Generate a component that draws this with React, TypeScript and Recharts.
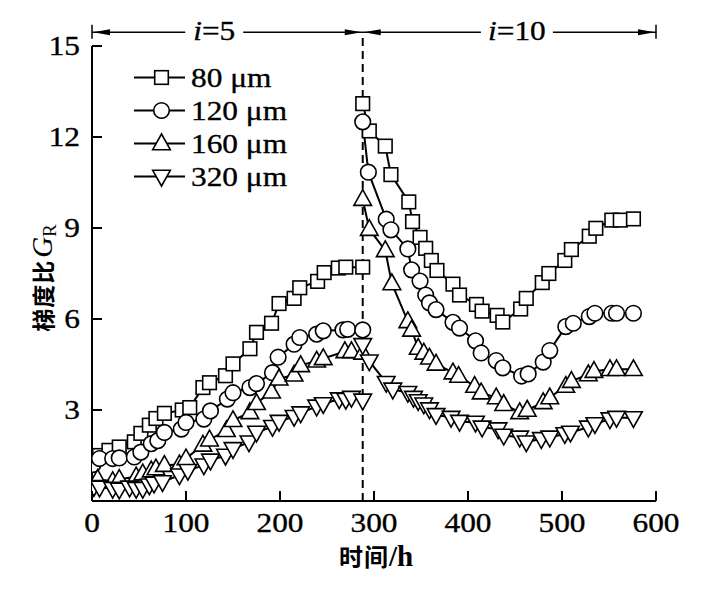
import React from 'react';
import { LineChart, Line, XAxis, YAxis, ReferenceLine } from 'recharts';

const SERIF = "'Liberation Serif', 'Times New Roman', Times, serif";
const CJK = "'Noto Sans CJK SC', 'Noto Sans', sans-serif";

// axis ticks
const xTicks = [0, 100, 200, 300, 400, 500, 600];
const yTicks = [3, 6, 9, 12, 15];
const switchTime = 288;
const arrowLevel = 15.45;
// where the span labels sit along the time axis
const spanLabelAt = [130, 452];

// legend names
const names = ['80 μm', '120 μm', '160 μm', '320 μm'];
const kinds = ['square', 'circle', 'up', 'down'];

// 80 μm
const t80a = [8, 18, 29, 45, 52, 61, 68, 77, 96, 104, 118, 125, 142, 150, 168, 175, 191, 199, 215, 221, 240, 247, 262, 270, 288];
const g80a = [1.5, 1.67, 1.78, 1.95, 2.23, 2.5, 2.72, 2.89, 3.0, 3.08, 3.74, 3.9, 4.13, 4.52, 5.02, 5.56, 5.86, 6.51, 6.68, 7.03, 7.24, 7.53, 7.68, 7.71, 7.71];
const t80b = [288, 295, 312, 318, 337, 341, 349, 355, 361, 367, 384, 391, 409, 415, 431, 437, 456, 462, 479, 486, 503, 510, 529, 536, 553, 562, 576];
const g80b = [13.1, 12.2, 11.7, 10.76, 9.86, 9.21, 8.69, 8.33, 7.93, 7.6, 7.15, 6.79, 6.48, 6.26, 6.12, 5.9, 6.33, 6.68, 7.2, 7.5, 7.93, 8.29, 8.73, 8.99, 9.26, 9.26, 9.3];

// 120 μm
const t120a = [1, 8, 22, 29, 45, 52, 63, 70, 77, 95, 100, 119, 126, 144, 150, 168, 175, 192, 198, 215, 221, 239, 246, 267, 272, 288];
const g120a = [1.2, 1.4, 1.4, 1.42, 1.45, 1.61, 1.89, 1.99, 2.26, 2.37, 2.59, 2.7, 2.97, 3.36, 3.57, 3.74, 3.87, 4.23, 4.74, 5.17, 5.39, 5.5, 5.61, 5.64, 5.66, 5.64];
const t120b = [288, 294, 313, 318, 336, 340, 349, 355, 359, 366, 384, 391, 408, 414, 430, 437, 457, 464, 480, 487, 504, 512, 529, 535, 553, 558, 576];
const g120b = [12.5, 10.84, 9.29, 8.94, 8.31, 7.62, 7.25, 6.79, 6.53, 6.31, 5.89, 5.7, 5.28, 4.88, 4.63, 4.39, 4.12, 4.19, 4.58, 4.96, 5.75, 5.86, 6.08, 6.19, 6.19, 6.19, 6.19];

// 160 μm
const t160a = [6, 22, 29, 47, 54, 63, 68, 77, 93, 100, 118, 125, 143, 150, 168, 175, 191, 199, 215, 222, 239, 246, 269, 276, 288];
const g160a = [0.72, 0.65, 0.72, 0.8, 0.9, 1.0, 1.07, 1.18, 1.2, 1.4, 1.85, 2.02, 2.33, 2.66, 2.92, 3.22, 3.6, 4.03, 4.16, 4.47, 4.62, 4.7, 4.93, 4.93, 4.88];
const t160b = [288, 295, 312, 319, 336, 340, 347, 353, 359, 366, 384, 390, 407, 414, 430, 438, 455, 463, 480, 487, 504, 510, 528, 534, 551, 558, 576];
const g160b = [9.95, 8.96, 8.26, 7.17, 5.92, 5.64, 5.04, 4.88, 4.72, 4.52, 4.23, 4.12, 3.79, 3.57, 3.41, 3.19, 2.92, 3.0, 3.25, 3.41, 3.79, 3.95, 4.17, 4.28, 4.34, 4.34, 4.34];

// 320 μm
const t320a = [2, 8, 22, 29, 40, 47, 54, 61, 66, 75, 93, 102, 119, 126, 142, 150, 167, 175, 192, 199, 215, 222, 239, 246, 263, 270, 276, 288];
const g320a = [0.47, 0.45, 0.41, 0.38, 0.45, 0.41, 0.41, 0.52, 0.58, 0.63, 0.85, 1.0, 1.18, 1.34, 1.5, 1.72, 1.94, 2.26, 2.45, 2.62, 2.78, 2.9, 3.12, 3.2, 3.36, 3.34, 3.41, 3.32];
const t320b = [288, 295, 313, 320, 336, 342, 347, 353, 359, 366, 382, 391, 408, 415, 432, 438, 455, 462, 478, 487, 503, 509, 528, 535, 551, 558, 576];
const g320b = [5.15, 4.61, 3.9, 3.68, 3.57, 3.41, 3.3, 3.19, 3.03, 2.84, 2.75, 2.62, 2.59, 2.43, 2.37, 2.16, 2.1, 1.94, 2.05, 2.1, 2.21, 2.26, 2.43, 2.54, 2.7, 2.75, 2.74];

const pts = (ts: number[], gs: number[]) => ts.map((t, i) => ({ t, g: gs[i] }));

const segments = [
  { kind: 'square', a: pts(t80a, g80a), b: pts(t80b, g80b) },
  { kind: 'circle', a: pts(t120a, g120a), b: pts(t120b, g120b) },
  { kind: 'up', a: pts(t160a, g160a), b: pts(t160b, g160b) },
  { kind: 'down', a: pts(t320a, g320a), b: pts(t320b, g320b) },
];

function MarkerShape({ kind, cx, cy }: { kind: string; cx: number; cy: number }) {
  const common = { fill: '#fff', stroke: '#000', strokeWidth: 1.6 };
  if (kind === 'square') return <rect x={cx - 6.8} y={cy - 6.8} width={13.6} height={13.6} {...common} />;
  if (kind === 'circle') return <circle cx={cx} cy={cy} r={7.8} {...common} />;
  if (kind === 'up')
    return <polygon points={`${cx},${cy - 9.5} ${cx - 8.8},${cy + 6.2} ${cx + 8.8},${cy + 6.2}`} {...common} />;
  return <polygon points={`${cx},${cy + 9.5} ${cx - 8.8},${cy - 6.2} ${cx + 8.8},${cy - 6.2}`} {...common} />;
}

const makeDot = (kind: string) => (props: any) => {
  const { cx, cy, index } = props;
  if (cx == null || cy == null) return <g key={`e${index}`} />;
  return <MarkerShape key={`${kind}-${index}-${cx}`} kind={kind} cx={cx} cy={cy} />;
};

// serif text, slightly widened to match the reference's typeface proportions
function SText({ x, y, anchor = 'start', size = 28, children }: any) {
  return (
    <text
      transform={`translate(${x},${y}) scale(1.12,1)`}
      textAnchor={anchor}
      fill="#000"
      stroke="#000"
      strokeWidth={0.35}
      style={{ fontFamily: SERIF, fontSize: size }}
    >
      {children}
    </text>
  );
}

const XTick = (props: any) => {
  const { x, y, payload } = props;
  return (
    <g>
      <line x1={x} y1={y} x2={x} y2={y - 10} stroke="#000" strokeWidth={2} />
      <SText x={x} y={y + 31} anchor="middle">{payload.value}</SText>
    </g>
  );
};

const YTick = (props: any) => {
  const { x, y, payload } = props;
  return (
    <g>
      <line x1={x} y1={y} x2={x + 10} y2={y} stroke="#000" strokeWidth={2} />
      <SText x={x - 12} y={y + 9} anchor="end">{payload.value}</SText>
    </g>
  );
};

// arrow span annotation drawn along a reference segment
const makeSpan = (label: string, start: number, end: number, at: number, leftBar: boolean) => (props: any) => {
  const { x1, y1, x2 } = props;
  const mid = x1 + ((at - start) / (end - start)) * (x2 - x1);
  const half = label.length > 3 ? 36 : 29;
  const ah = 17;
  return (
    <g>
      <line x1={x1} y1={y1} x2={mid - half} y2={y1} stroke="#000" strokeWidth={1.5} />
      <line x1={mid + half} y1={y1} x2={x2} y2={y1} stroke="#000" strokeWidth={1.5} />
      <polygon points={`${x1 + 1},${y1} ${x1 + 1 + ah},${y1 - 3} ${x1 + 1 + ah},${y1 + 3}`} fill="#000" />
      <polygon points={`${x2 - 1},${y1} ${x2 - 1 - ah},${y1 - 3} ${x2 - 1 - ah},${y1 + 3}`} fill="#000" />
      {leftBar && <line x1={x1} y1={y1 - 7.5} x2={x1} y2={y1 + 6.5} stroke="#000" strokeWidth={1.5} />}
      {!leftBar && <line x1={x2} y1={y1 - 7.5} x2={x2} y2={y1 + 6.5} stroke="#000" strokeWidth={1.5} />}
      <SText x={mid} y={y1 + 8} anchor="middle">
        <tspan style={{ fontStyle: 'italic' }}>i</tspan>
        <tspan>{label.slice(1)}</tspan>
      </SText>
    </g>
  );
};

const LegendBox = () => (
  <g transform="translate(134, 77.5)">
    {names.map((n, i) => {
      const y = i * 33;
      return (
        <g key={n}>
          <line x1={0} y1={y} x2={51} y2={y} stroke="#000" strokeWidth={2} />
          <MarkerShape kind={kinds[i]} cx={27.5} cy={y} />
          <SText x={57} y={y + 9}>{n}</SText>
        </g>
      );
    })}
  </g>
);

const YLabel = () => (
  <text transform="translate(52, 278) rotate(-90)" textAnchor="middle" fill="#000">
    <tspan style={{ fontFamily: CJK, fontWeight: 700, fontSize: 23, letterSpacing: 1 }}>梯度比</tspan>
    <tspan style={{ fontFamily: SERIF, fontStyle: 'italic', fontSize: 29 }} dx={2}>G</tspan>
    <tspan style={{ fontFamily: SERIF, fontSize: 19 }} dy={4}>R</tspan>
  </text>
);

const XLabel = () => (
  <text x={376} y={566} textAnchor="middle" fill="#000">
    <tspan style={{ fontFamily: CJK, fontWeight: 700, fontSize: 24, letterSpacing: 1 }}>时间</tspan>
    <tspan style={{ fontFamily: SERIF, fontWeight: 700, fontSize: 29 }}>/h</tspan>
  </text>
);

export default function App() {
  return (
    <div style={{ position: 'absolute', left: 0, top: 0, width: 707, height: 593, background: '#fff' }}>
      <LineChart width={707} height={593} margin={{ top: 46, right: 51, bottom: 0, left: 0 }}>
        <XAxis
          type="number"
          dataKey="t"
          domain={[0, 600]}
          ticks={xTicks}
          allowDataOverflow
          tickSize={0}
          tickMargin={0}
          tickLine={false}
          tick={<XTick />}
          axisLine={{ stroke: '#000', strokeWidth: 2 }}
          height={92}
        />
        <YAxis
          type="number"
          domain={[0, 15]}
          ticks={yTicks}
          allowDataOverflow
          width={92}
          tickSize={0}
          tickMargin={0}
          tickLine={false}
          tick={<YTick />}
          axisLine={{ stroke: '#000', strokeWidth: 2 }}
        />
        <ReferenceLine
          segment={[{ x: switchTime, y: 0 }, { x: switchTime, y: arrowLevel }]}
          stroke="#000"
          strokeWidth={2}
          strokeDasharray="8 5"
          ifOverflow="visible"
        />
        <ReferenceLine
          segment={[{ x: 0, y: arrowLevel }, { x: switchTime, y: arrowLevel }]}
          ifOverflow="visible"
          shape={makeSpan('i=5', 0, switchTime, spanLabelAt[0], true)}
        />
        <ReferenceLine
          segment={[{ x: switchTime, y: arrowLevel }, { x: 600, y: arrowLevel }]}
          ifOverflow="visible"
          shape={makeSpan('i=10', switchTime, 600, spanLabelAt[1], false)}
        />
        {segments.map((s) => (
          <Line
            key={`${s.kind}-a`}
            data={s.a}
            dataKey="g"
            type="linear"
            stroke="#000"
            strokeWidth={2}
            dot={makeDot(s.kind)}
            activeDot={false}
            isAnimationActive={false}
            legendType="none"
          />
        ))}
        {segments.map((s) => (
          <Line
            key={`${s.kind}-b`}
            data={s.b}
            dataKey="g"
            type="linear"
            stroke="#000"
            strokeWidth={2}
            dot={makeDot(s.kind)}
            activeDot={false}
            isAnimationActive={false}
            legendType="none"
          />
        ))}
        <LegendBox />
        <YLabel />
        <XLabel />
      </LineChart>
    </div>
  );
}
